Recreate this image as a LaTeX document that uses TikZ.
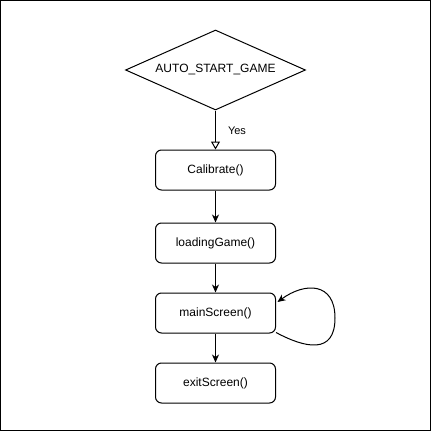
\documentclass[tikz,border=0pt]{standalone}
\usepackage{fontspec}
\setmainfont{Liberation Sans}
\usetikzlibrary{shapes.geometric,arrows.meta,calc}
\tikzset{
  procbox/.style={draw, line width=1pt, rounded corners=6pt, minimum width=120pt, minimum height=40pt, inner sep=0pt, font=\fontsize{12}{14}\selectfont},
  decbox/.style={draw, line width=1pt, diamond, aspect=2.25, minimum width=180pt, minimum height=80pt, inner sep=0pt, font=\fontsize{12}{14}\selectfont},
  flow/.style={draw, line width=1pt, -{Stealth[length=8pt,width=7pt,inset=2.5pt]}},
  yesflow/.style={draw, line width=1pt, -{Triangle[open,length=8pt,width=9pt]}},
  lbl/.style={font=\fontsize{11}{13}\selectfont, inner sep=0pt}
}
\begin{document}
\begin{tikzpicture}[x=1pt,y=-1pt]
\useasboundingbox (0,0) rectangle (431,431);
\draw[line width=1pt] (0.5,0.5) rectangle (430.5,430.5);
\node[decbox] (d) at (215.5,70) {AUTO\_START\_GAME};
\node[procbox] (cal) at (215.5,170) {Calibrate()};
\node[procbox] (lg) at (215.5,243) {loadingGame()};
\node[procbox] (ms) at (215.5,313) {mainScreen()};
\node[procbox] (ex) at (215.5,383) {exitScreen()};
\draw[yesflow] (d.south) -- node[lbl, right, xshift=12pt, yshift=-1pt] (yes) {Yes} (cal.north);
\draw[flow] (cal.south) -- (lg.north);
\draw[flow] (lg.south) -- (ms.north);
\draw[flow] (ms.south) -- (ex.north);
\coordinate (loopend) at ($(ms.east)+(1.5,-11)$);
\draw[flow] ($(ms.south east)+(0,-1)$) .. controls (305,348) and (335,355) .. (335,318) .. controls (335,282) and (305,282) .. (loopend);
\end{tikzpicture}
\end{document}
